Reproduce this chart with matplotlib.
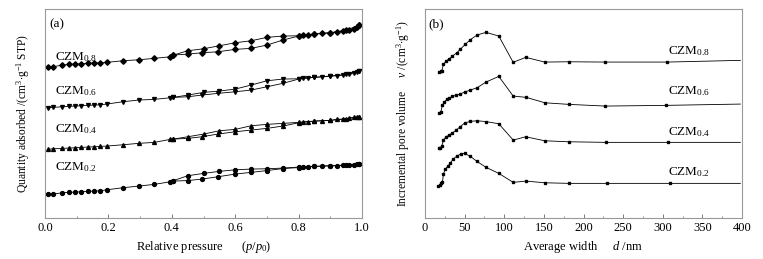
import matplotlib
matplotlib.use('Agg')
import matplotlib.pyplot as plt
from matplotlib.ticker import MultipleLocator, FormatStrFormatter

plt.rcParams['font.family'] = ['Liberation Serif', 'DejaVu Serif']
plt.rcParams['mathtext.fontset'] = 'custom'
plt.rcParams['mathtext.rm'] = 'Liberation Serif'
plt.rcParams['mathtext.it'] = 'Liberation Serif:italic'

# (a) N2 isotherms, curves stacked with offsets (arbitrary units)
p_ads = [0.01, 0.025, 0.055, 0.075, 0.095, 0.115, 0.135, 0.155, 0.175, 0.195, 0.245, 0.295, 0.345,
         0.395, 0.405, 0.45, 0.495, 0.545, 0.6, 0.65, 0.7, 0.75, 0.8, 0.815, 0.83, 0.85, 0.875,
         0.9, 0.92, 0.94, 0.96, 0.975, 0.985, 0.99]
p_des = [0.99, 0.95, 0.9, 0.85, 0.8, 0.75, 0.7, 0.65, 0.6, 0.55, 0.5, 0.45, 0.405]

ads_08 = [151.3, 151.3, 153, 153.7, 154, 154.3, 154.7, 155, 155.3, 155.7, 157.3, 158.3, 159.7,
          161.3, 163, 164, 165.3, 166.3, 168.7, 169.7, 173, 178, 182, 183, 183, 184, 184.7,
          185.3, 186.3, 187.3, 188, 189, 190.7, 193]
des_08 = [193, 187.7, 185.3, 184, 182.3, 182, 180.7, 177.3, 175.3, 172.3, 169.3, 167.3, 163]

ads_06 = [110.3, 110.7, 111.3, 111.7, 112, 112.3, 112.7, 113, 113.3, 114, 116.3, 118, 118.7,
          120.3, 120.7, 121.3, 123, 124.7, 126.3, 128, 131.3, 134.7, 139, 139.7, 140.3, 140.7, 141.3,
          142, 142.3, 143, 143.7, 144.7, 146.3, 147.3]
des_06 = [147.3, 143.7, 142, 140.7, 139.3, 139, 137.3, 133, 129, 127, 125.7, 123, 120.7]

ads_04 = [68.7, 69.3, 69.7, 70, 70.3, 70.7, 71, 71.3, 71.7, 72, 73.3, 74.7, 75.7,
          78.7, 79, 79.7, 81.3, 84, 86.3, 88, 89.7, 92, 95.3, 96, 96.3, 97, 97.3,
          97.7, 98.7, 99, 100, 100.7, 101, 101.3]
des_04 = [101.3, 99.3, 97.7, 97, 95.7, 94.7, 93.7, 92.3, 88.7, 87.3, 84, 81.3, 79]

ads_02 = [23.7, 24, 25.3, 25.7, 26, 26.3, 26.7, 27, 27.3, 28.3, 30.3, 32, 33.7,
          36.3, 37, 37.5, 39, 41.3, 44, 45.7, 47.5, 49.5, 50.5, 51, 51.3, 51.7, 52,
          52.3, 52.3, 53, 53, 53.3, 53.7, 53.7]
des_02 = [53.7, 53, 52.3, 51.7, 51, 50, 49.3, 49, 48.3, 46.7, 44.7, 42.3, 37.5]

iso_names = ['CZM$_{0.8}$', 'CZM$_{0.6}$', 'CZM$_{0.4}$', 'CZM$_{0.2}$']
iso_ads = [ads_08, ads_06, ads_04, ads_02]
iso_des = [des_08, des_06, des_04, des_02]
iso_markers = ['D', 'v', '^', 'o']
iso_label_y = [158, 124, 86.3, 48]

# (b) pore size distributions (arbitrary units, stacked)
d_08 = [18.2, 19.9, 21.2, 23.3, 26.7, 30.5, 34.7, 40.2, 44.4, 50.8, 57.1, 65.6, 77, 93.1,
        111.3, 127, 151.1, 181.2, 227.7, 305.6, 397.9]
v_08 = [146.3, 147, 147.3, 153.7, 157, 159.3, 162, 165.3, 168.7, 173.7, 178.3, 183, 185.7, 182,
        155.7, 160.7, 156, 156.3, 156, 156, 157.7]

d_06 = [18.2, 19.9, 22, 24.6, 27.5, 30.9, 34.7, 38.9, 44.4, 49.9, 57.1, 65.6, 77, 93.1,
        111.3, 127.8, 151.1, 181.2, 227.7, 303.9, 397.9]
v_06 = [105.3, 106, 112.7, 116.3, 118.7, 120.3, 121.7, 122.7, 124, 126, 128, 130.3, 136, 141.7,
        122, 120.7, 115.3, 113.7, 112, 112.7, 114]

d_04 = [17.8, 19.5, 21.2, 23.3, 26.7, 30.5, 34.7, 39.4, 44.4, 49.9, 57.1, 65.6, 77, 93.1,
        111.3, 127, 151.1, 181.2, 228.6, 306.9, 397.9]
v_04 = [69.7, 70.3, 72, 78, 81.3, 83, 85.3, 88, 91.3, 95, 96.7, 97.3, 96.5, 94.3,
        78, 81.3, 77.3, 76.3, 75.7, 75.7, 75.7]

d_02 = [16.9, 18.6, 20.3, 22, 23.3, 25.4, 28.8, 31.7, 35.1, 40.2, 45.7, 49.9, 57.1, 65.6, 77,
        93.1, 111.3, 127, 151.1, 182, 229.8, 309, 397.9]
v_02 = [32, 33, 34.7, 36, 44, 48.7, 52, 54.7, 58.7, 62, 64.3, 64.7, 61.7, 56.7, 50.7,
        44.7, 35.7, 37, 35.3, 34.7, 34.7, 34.7, 34.7]

psd_d = [d_08, d_06, d_04, d_02]
psd_v = [v_08, v_06, v_04, v_02]
psd_label_y = [163.7, 123.7, 83, 43]

fig = plt.figure(figsize=(7.63, 2.59), dpi=100)
ax1 = fig.add_axes([0.059, 0.158, 0.4155, 0.807])
ax2 = fig.add_axes([0.557, 0.158, 0.4155, 0.807])

for i in range(4):
    ax1.plot(p_ads, iso_ads[i], '-', color='black', lw=0.6,
             marker=iso_markers[i], ms=2.8, mfc='black', mec='black')
    ax1.plot(p_des, iso_des[i], '-', color='black', lw=0.6,
             marker=iso_markers[i], ms=2.8, mfc='black', mec='black')
    ax1.text(0.03, iso_label_y[i], iso_names[i], fontsize=9.5, va='baseline', ha='left')

    n = len(psd_d[i])
    ax2.plot(psd_d[i], psd_v[i], '-', color='black', lw=0.6,
             marker='s', ms=1.9, markevery=list(range(n - 1)))
    ax2.text(307, psd_label_y[i], iso_names[i], fontsize=9.5, va='baseline', ha='left')

ax1.text(0.015, 191, '(a)', fontsize=9.5)
ax2.text(4, 191, '(b)', fontsize=9.5)

ax1.set_xlim(0, 1.0)
ax1.set_ylim(0, 209)
ax1.xaxis.set_major_locator(MultipleLocator(0.2))
ax1.xaxis.set_minor_locator(MultipleLocator(0.1))
ax1.xaxis.set_major_formatter(FormatStrFormatter('%.1f'))
ax1.set_xlabel('Relative pressure      ($p$/$p_0$)', fontsize=9)
ax1.set_ylabel('Quantity adsorbed /(cm$^3$$\\cdot$g$^{-1}$ STP)', fontsize=8.3)

ax2.set_xlim(0, 400)
ax2.set_ylim(0, 209)
ax2.xaxis.set_major_locator(MultipleLocator(50))
ax2.xaxis.set_minor_locator(MultipleLocator(25))
ax2.set_xlabel('Average width     $d$ /nm', fontsize=9)
ax2.set_ylabel('Incremental pore volume     $v$ /(cm$^3$$\\cdot$g$^{-1}$)', fontsize=8.3)

for ax in (ax1, ax2):
    ax.set_yticks([])
    ax.yaxis.set_label_coords(-0.04, 0.5)
    ax.xaxis.set_label_coords(0.5, -0.1)
    ax.tick_params(axis='x', which='major', direction='in', length=3, width=0.6,
                   labelsize=9, color='#666666', pad=3)
    ax.tick_params(axis='x', which='minor', direction='in', length=1.8, width=0.5, color='#666666')
    for s in ax.spines.values():
        s.set_color('#999999')
        s.set_linewidth(0.8)

fig.savefig('out.png', dpi=100)
